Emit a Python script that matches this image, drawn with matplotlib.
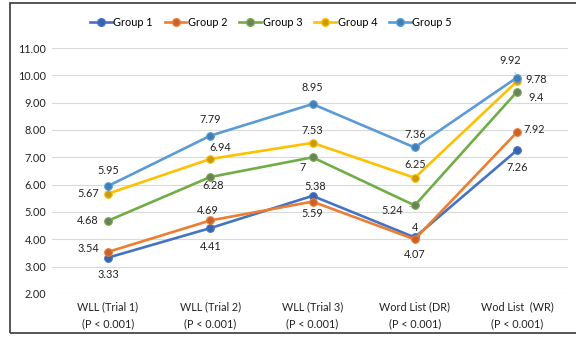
import matplotlib
matplotlib.use("Agg")
import matplotlib.pyplot as plt
from matplotlib.patches import Rectangle
from matplotlib.lines import Line2D

plt.rcParams['font.family'] = ['Lato', 'DejaVu Sans']

categories = ["WLL (Trial 1)\n(P < 0.001)", "WLL (Trial 2)\n(P < 0.001)",
              "WLL (Trial 3)\n(P < 0.001)", "Word List (DR)\n(P < 0.001)",
              "Wod List  (WR)\n(P < 0.001)"]
groups = ["Group 1", "Group 2", "Group 3", "Group 4", "Group 5"]
group1 = [3.33, 4.41, 5.59, 4.07, 7.26]
group2 = [3.54, 4.69, 5.38, 4.00, 7.92]
group3 = [4.68, 6.28, 7.00, 5.24, 9.40]
group4 = [5.67, 6.94, 7.53, 6.25, 9.78]
group5 = [5.95, 7.79, 8.95, 7.36, 9.92]
label_text = [
    ["3.33", "4.41", "5.59", "4.07", "7.26"],
    ["3.54", "4.69", "5.38", "4", "7.92"],
    ["4.68", "6.28", "7", "5.24", "9.4"],
    ["5.67", "6.94", "7.53", "6.25", "9.78"],
    ["5.95", "7.79", "8.95", "7.36", "9.92"],
]
yticks = [2, 3, 4, 5, 6, 7, 8, 9, 10, 11]

series = [group1, group2, group3, group4, group5]
line_colors = ["#4472C4", "#ED7D31", "#70AD47", "#FFC000", "#5B9BD5"]
marker_colors = ["#3A64B0", "#C8622A", "#6E7F5E", "#C89A10", "#3F7FB8"]

# label offsets in pixels (dx right, dy down) and whether a leader line is drawn
offsets = [
    [(0, 17), (0, 18), (0, 18), (0, 17), (0, 17)],
    [(-20, -3), (-3, -10), (3, -15), (0, -12), (17, -3)],
    [(-20, 0), (3, 8), (-10, 10), (-23, 5), (19, 6)],
    [(-20, 0), (10, -11), (0, -12), (0, -13), (19, -2)],
    [(0, -16), (0, -16), (0, -17), (0, -13), (-7, -17)],
]
leaders = {(2, 3), (2, 4), (4, 4)}

FS = 7.8
W, H = 576, 339
fig = plt.figure(figsize=(W / 100, H / 100), dpi=100)

# outer chart frame (runs off the right edge)
fig.add_artist(Rectangle((10 / W, 1 - 333 / H), 1.2, (333 - 3) / H,
                         transform=fig.transFigure, fill=False,
                         edgecolor="#3a3a3a", linewidth=1.2, clip_on=False))

ax = fig.add_axes([52 / W, 1 - 294 / H, (568 - 52) / W, (294 - 48) / H])
x = list(range(len(categories)))
ax.set_xlim(-0.548, 4.499)
ax.set_ylim(2, 11)
ax.set_yticks(yticks)
ax.set_yticklabels([f"{v:.2f}" for v in yticks], fontsize=FS, color="#222222")
ax.set_xticks(x)
ax.set_xticklabels(categories, fontsize=FS, color="#222222", linespacing=1.75)
ax.tick_params(axis="both", length=0)
ax.tick_params(axis="y", pad=4)
ax.tick_params(axis="x", pad=5)
ax.grid(axis="y", color="#D9D9D9", linewidth=0.8)
ax.set_axisbelow(True)
for s in ax.spines.values():
    s.set_visible(False)

for i, (vals, lc, mc) in enumerate(zip(series, line_colors, marker_colors)):
    ax.plot(x, vals, color=lc, linewidth=1.9, marker="o", markersize=5.5,
            markerfacecolor=mc, markeredgecolor=lc, markeredgewidth=0.8,
            label=groups[i], zorder=3 + i * 0.1, solid_capstyle="round")

for i, vals in enumerate(series):
    for j, v in enumerate(vals):
        dx, dy = offsets[i][j]
        props = None
        if (i, j) in leaders:
            props = dict(arrowstyle="-", color="#A6A6A6", linewidth=0.6,
                         shrinkA=3, shrinkB=3)
        ax.annotate(label_text[i][j], (j, v),
                    xytext=(dx * 0.72, -dy * 0.72), textcoords="offset points",
                    ha="center", va="center", fontsize=FS, color="#222222",
                    arrowprops=props, zorder=10)

handles = [Line2D([0], [0], color=lc, linewidth=1.9, marker="o", markersize=5.5,
                  markerfacecolor=mc, markeredgecolor=lc)
           for lc, mc in zip(line_colors, marker_colors)]
fig.legend(handles, groups, loc="center", bbox_to_anchor=(271 / W, 1 - 22 / H),
           ncol=5, frameon=False, fontsize=FS, handlelength=2.0,
           handletextpad=0.15, columnspacing=1.1)

fig.savefig("out.png", dpi=100)
